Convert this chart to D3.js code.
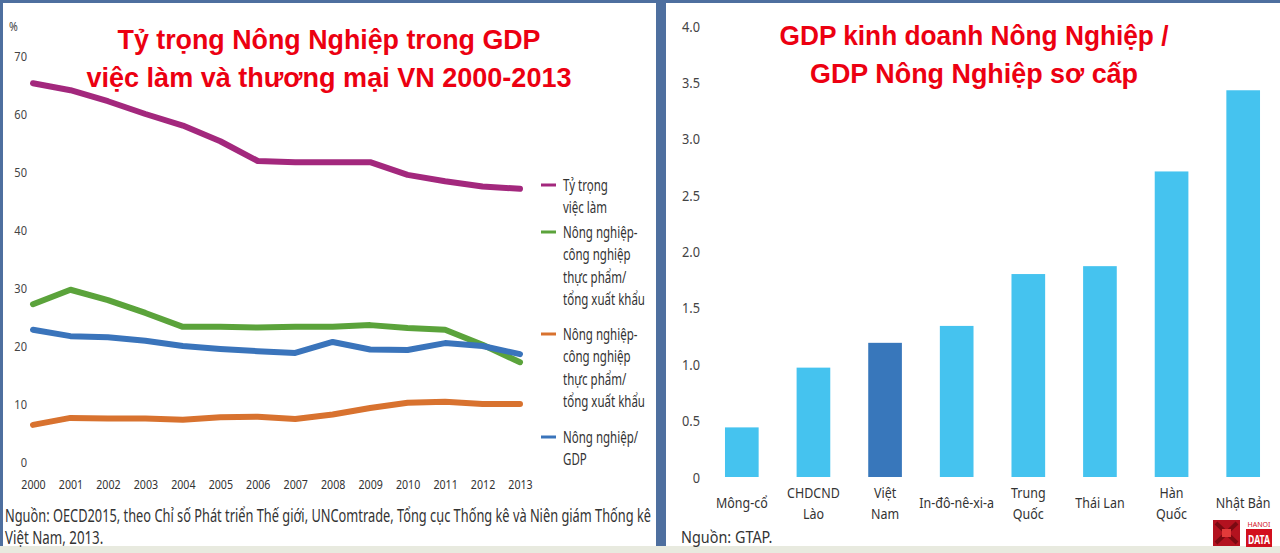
<!DOCTYPE html>
<html>
<head>
<meta charset="utf-8">
<script src="https://cdn.jsdelivr.net/npm/d3@7"></script>
<style>
  html, body { margin: 0; padding: 0; background: #4e6f9f; }
  svg { display: block; }
</style>
</head>
<body>
<svg id="chart" width="1280" height="553"></svg>
<script>
// ---------------- DATA ----------------
const years = [2000, 2001, 2002, 2003, 2004, 2005, 2006, 2007, 2008, 2009, 2010, 2011, 2012, 2013];
const employmentShare = [65.3, 64.1, 62.2, 60.0, 58.0, 55.3, 51.9, 51.7, 51.7, 51.7, 49.5, 48.4, 47.5, 47.1];
const agroFoodExportsGreen = [27.2, 29.7, 27.9, 25.7, 23.3, 23.3, 23.2, 23.3, 23.3, 23.6, 23.1, 22.8, 20.2, 17.2];
const agroFoodExportsOrange = [6.4, 7.6, 7.5, 7.5, 7.3, 7.7, 7.8, 7.4, 8.2, 9.3, 10.2, 10.4, 10.0, 10.0];
const agricultureGdp = [22.8, 21.7, 21.5, 20.9, 20.0, 19.5, 19.1, 18.8, 20.7, 19.4, 19.3, 20.5, 20.0, 18.6];
const leftTicks = [0, 10, 20, 30, 40, 50, 60, 70];
const seriesNames = ["Tỷ trọng việc làm", "Nông nghiệp-công nghiệp thực phẩm/tổng xuất khẩu (1)",
                     "Nông nghiệp-công nghiệp thực phẩm/tổng xuất khẩu (2)", "Nông nghiệp/GDP"];
const legendLines = [
  ["Tỷ trọng", "việc làm"],
  ["Nông nghiệp-", "công nghiệp", "thực phẩm/", "tổng xuất khẩu"],
  ["Nông nghiệp-", "công nghiệp", "thực phẩm/", "tổng xuất khẩu"],
  ["Nông nghiệp/", "GDP"]
];
const leftTitle = ["Tỷ trọng Nông Nghiệp trong GDP", "việc làm và thương mại VN 2000-2013"];
const leftSource = ["Nguồn: OECD2015, theo Chỉ số Phát triển Thế giới, UNComtrade, Tổng cục Thống kê và Niên giám Thống kê", "Việt Nam, 2013."];

const countries = ["Mông-cổ", "CHDCND Lào", "Việt Nam", "In-đô-nê-xi-a", "Trung Quốc", "Thái Lan", "Hàn Quốc", "Nhật Bản"];
const countryLabelLines = [["Mông-cổ"], ["CHDCND", "Lào"], ["Việt", "Nam"], ["In-đô-nê-xi-a"], ["Trung", "Quốc"], ["Thái Lan"], ["Hàn", "Quốc"], ["Nhật Bản"]];
const ratioValues = [0.44, 0.97, 1.19, 1.34, 1.80, 1.87, 2.71, 3.43];
const highlightCountry = "Việt Nam";
const rightTicks = [0, 0.5, 1.0, 1.5, 2.0, 2.5, 3.0, 3.5, 4.0];
const rightTitle = ["GDP kinh doanh Nông Nghiệp /", "GDP Nông Nghiệp sơ cấp"];
const rightSource = "Nguồn: GTAP.";

// ---------------- STYLE ----------------
const lineColors = ["#a3287d", "#5ba33b", "#d8722f", "#3a74bb"];
const barColor = "#45c3ef", barHighlight = "#3877bb";
const titleRed = "#ec0011";
const textGray = "#3a3a3a";
const FONT = "'Noto Sans', 'Open Sans', sans-serif";

const svg = d3.select("#chart");

// frame and panels
svg.append("rect").attr("x", 0).attr("y", 0).attr("width", 1280).attr("height", 553).attr("fill", "#4e6f9f");
svg.append("rect").attr("x", 0).attr("y", 546).attr("width", 1280).attr("height", 7).attr("fill", "#e8eadf");
svg.append("rect").attr("x", 3).attr("y", 3).attr("width", 653).attr("height", 543).attr("fill", "#ffffff");
svg.append("rect").attr("x", 666).attr("y", 3).attr("width", 614).attr("height", 543).attr("fill", "#ffffff");

// helper: condensed text via horizontal scale
function ctext(parent, str, x, y, size, sx, anchor, fill) {
  return parent.append("text")
    .attr("transform", `translate(${x},${y}) scale(${sx},1)`)
    .attr("text-anchor", anchor || "start")
    .attr("font-family", FONT)
    .attr("font-size", size)
    .attr("fill", fill || textGray)
    .text(str);
}

// ================= LEFT CHART =================
const L = svg.append("g");
const xL = d3.scalePoint().domain(years).range([33, 520]);
const yL = d3.scaleLinear().domain([0, 70]).range([462, 56]);

// y axis
const yAxisL = L.append("g").attr("transform", "translate(27,0)")
  .call(d3.axisLeft(yL).tickValues(leftTicks).tickSize(0).tickPadding(0).tickFormat(d3.format("d")));
yAxisL.select(".domain").remove();
yAxisL.selectAll("text").attr("font-family", FONT).attr("font-size", 13).attr("fill", "#444")
  .attr("transform", "scale(0.85,1)").attr("dy", "0.35em");
ctext(L, "%", 9, 31, 12.5, 0.85, "start", "#444");

// x axis
const xAxisL = L.append("g").attr("transform", "translate(0,480)")
  .call(d3.axisBottom(xL).tickSize(0).tickPadding(0).tickFormat(d3.format("d")));
xAxisL.select(".domain").remove();
xAxisL.selectAll("text").attr("font-family", FONT).attr("font-size", 13).attr("fill", "#333")
  .attr("transform", "scale(0.82,1)").attr("dy", "0.71em");

// lines
const seriesData = [employmentShare, agroFoodExportsGreen, agroFoodExportsOrange, agricultureGdp];
const line = d3.line().x((d, i) => xL(years[i])).y(d => yL(d));
const drawOrder = [2, 1, 3, 0];
drawOrder.forEach(k => {
  L.append("path").datum(seriesData[k])
    .attr("d", line)
    .attr("fill", "none")
    .attr("stroke", lineColors[k])
    .attr("stroke-width", 6)
    .attr("stroke-linejoin", "round")
    .attr("stroke-linecap", "round")
    .attr("aria-label", seriesNames[k]);
});

// legend
const legendStart = [191, 238, 340, 443];
const legendGap = 22.3;
legendLines.forEach((lines, k) => {
  const base = legendStart[k];
  L.append("line").attr("x1", 541).attr("x2", 556)
    .attr("y1", base - 6).attr("y2", base - 6)
    .attr("stroke", lineColors[k]).attr("stroke-width", 3);
  lines.forEach((t, j) => ctext(L, t, 563, base + j * legendGap, 16, 0.72, "start", "#333"));
});

// title
leftTitle.forEach((t, i) => {
  L.append("text").attr("x", 329).attr("y", i === 0 ? 49 : 87)
    .attr("text-anchor", "middle")
    .attr("font-family", "'Liberation Sans', Arial, sans-serif")
    .attr("font-weight", "bold").attr("font-size", 27).attr("fill", titleRed)
    .attr("textLength", i === 0 ? 423 : 485).attr("lengthAdjust", "spacingAndGlyphs")
    .text(t);
});

// source
L.append("text").attr("x", 5).attr("y", 522)
  .attr("font-family", FONT).attr("font-size", 18).attr("fill", "#333")
  .attr("textLength", 646).attr("lengthAdjust", "spacingAndGlyphs").text(leftSource[0]);
ctext(L, leftSource[1], 5, 544, 18, 0.74, "start", "#333");

// ================= RIGHT CHART =================
const R = svg.append("g");
const xR = d3.scaleBand().domain(countries).range([706, 1279]).paddingInner(0.53).paddingOuter(0.265);
const yR = d3.scaleLinear().domain([0, 4]).range([477, 26]);

const yAxisR = R.append("g").attr("transform", "translate(700,0)")
  .call(d3.axisLeft(yR).tickValues(rightTicks).tickSize(0).tickPadding(0)
    .tickFormat(d => d === 0 ? "0" : d3.format(".1f")(d)));
yAxisR.select(".domain").remove();
yAxisR.selectAll("text").attr("font-family", FONT).attr("font-size", 14.5).attr("fill", "#444")
  .attr("transform", "scale(0.88,1)").attr("dy", "0.35em");

R.selectAll("rect.bar").data(countries).join("rect").attr("class", "bar")
  .attr("x", d => xR(d))
  .attr("width", xR.bandwidth())
  .attr("y", (d, i) => yR(ratioValues[i]))
  .attr("height", (d, i) => yR(0) - yR(ratioValues[i]))
  .attr("fill", d => d === highlightCountry ? barHighlight : barColor);

// category labels
countries.forEach((c, i) => {
  const cx = xR(c) + xR.bandwidth() / 2;
  const lines = countryLabelLines[i];
  if (lines.length === 1) {
    ctext(R, lines[0], cx, 508, 14.5, 0.86, "middle", "#333");
  } else {
    lines.forEach((s, j) => ctext(R, s, cx, 498 + j * 21, 14.5, 0.86, "middle", "#333"));
  }
});

// title
rightTitle.forEach((t, i) => {
  R.append("text").attr("x", 974).attr("y", i === 0 ? 45 : 83)
    .attr("text-anchor", "middle")
    .attr("font-family", "'Liberation Sans', Arial, sans-serif")
    .attr("font-weight", "bold").attr("font-size", 27).attr("fill", titleRed)
    .attr("textLength", i === 0 ? 389 : 328).attr("lengthAdjust", "spacingAndGlyphs")
    .text(t);
});

// source
ctext(R, rightSource, 681, 543, 16, 0.9, "start", "#333");

// logo (decorative)
const logo = R.append("g");
logo.append("rect").attr("x", 1213).attr("y", 520).attr("width", 27).attr("height", 26).attr("fill", "#b3121f");
logo.append("path").attr("d", "M1216,523 L1237,543 M1237,523 L1216,543").attr("stroke", "#7a0a12").attr("stroke-width", 4);
logo.append("rect").attr("x", 1222).attr("y", 529).attr("width", 9).attr("height", 8).attr("fill", "#e23a3a");
logo.append("text").attr("x", 1259).attr("y", 527).attr("text-anchor", "middle")
  .attr("font-family", FONT).attr("font-size", 7).attr("fill", "#d2101e").text("HANOI");
logo.append("rect").attr("x", 1246).attr("y", 529).attr("width", 26).attr("height", 18).attr("fill", "#d2101e");
logo.append("text").attr("x", 1259).attr("y", 544).attr("text-anchor", "middle")
  .attr("font-family", FONT).attr("font-weight", "bold").attr("font-size", 12).attr("fill", "#fff")
  .attr("textLength", 22).attr("lengthAdjust", "spacingAndGlyphs").text("DATA");
</script>
</body>
</html>
